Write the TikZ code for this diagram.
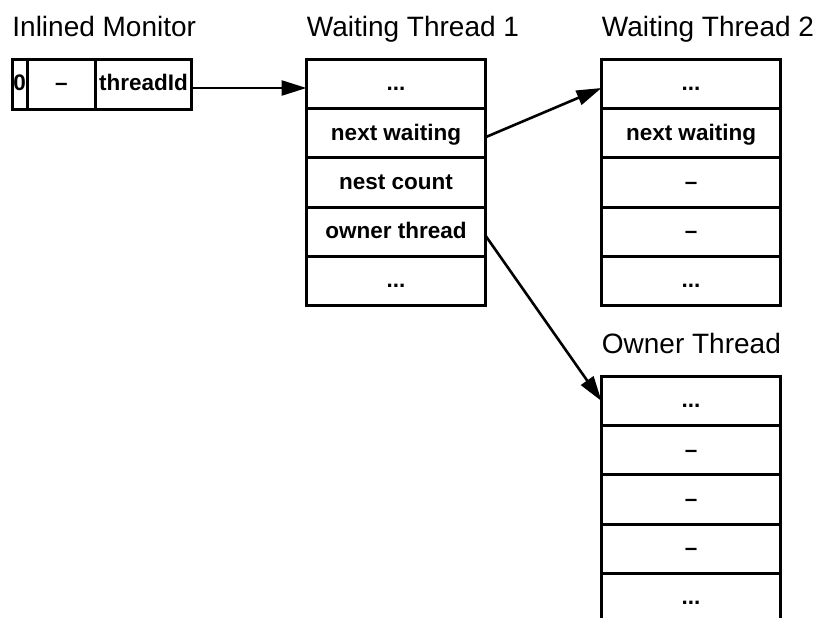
\documentclass[tikz,border=0pt]{standalone}
\usepackage{fontspec}
\setmainfont{Liberation Sans}
\usetikzlibrary{positioning, arrows.meta}
\tikzset{
  cell/.style={rectangle, draw, line width=1.5pt, minimum width=89.5pt, minimum height=24.6pt, inner sep=0, outer sep=0, text height=8.8pt, text depth=2pt, font=\fontsize{11.25}{13.5}\selectfont\bfseries},
  title/.style={anchor=base west, inner sep=0, font=\fontsize{14}{17}\selectfont},
  link/.style={-{Triangle[length=12.5pt, width=7.5pt]}, line width=1.3pt},
}
\begin{document}
\begin{tikzpicture}[x=0.5pt, y=-0.5pt]
\useasboundingbox (0,0) rectangle (824,617);
%inlined monitor
\node[cell, anchor=north west, minimum width=7.75pt, minimum height=25pt] (mon_zero) at (12,59) {0};
\node[cell, right=0pt of mon_zero, minimum width=34pt, minimum height=25pt] (mon_dash) {–};
\node[cell, right=0pt of mon_dash, minimum width=48pt, minimum height=25pt] (mon_id) {threadId};
\node[title] at ([yshift=11.5pt]mon_zero.north west) {Inlined Monitor};
%waiting thread 1
\node[cell, right=57.5pt of mon_id] (wt1_a) {...};
\node[cell, below=0pt of wt1_a] (wt1_b) {next waiting};
\node[cell, below=0pt of wt1_b] (wt1_c) {nest count};
\node[cell, below=0pt of wt1_c] (wt1_d) {owner thread};
\node[cell, below=0pt of wt1_d] (wt1_e) {...};
\node[title] at ([yshift=11.5pt]wt1_a.north west) {Waiting Thread 1};
%waiting thread 2
\node[cell, right=58pt of wt1_a] (wt2_a) {...};
\node[cell, below=0pt of wt2_a] (wt2_b) {next waiting};
\node[cell, below=0pt of wt2_b] (wt2_c) {–};
\node[cell, below=0pt of wt2_c] (wt2_d) {–};
\node[cell, below=0pt of wt2_d] (wt2_e) {...};
\node[title] at ([yshift=11.5pt]wt2_a.north west) {Waiting Thread 2};
%owner thread
\node[cell, below=35.5pt of wt2_e] (own_a) {...};
\node[cell, below=0pt of own_a] (own_b) {–};
\node[cell, below=0pt of own_b] (own_c) {–};
\node[cell, below=0pt of own_c] (own_d) {–};
\node[cell, below=0pt of own_d] (own_e) {...};
\node[title] at ([yshift=11.5pt]own_a.north west) {Owner Thread};
% links between the records
\draw[link] ([yshift=-2pt]mon_id.east) -- ([yshift=-2pt]wt1_a.west);
\draw[link] ([yshift=-2pt]wt1_b.east) -- ([yshift=-2pt]wt2_a.west);
\draw[link] ([yshift=-2pt]wt1_d.east) -- (own_a.west);
\end{tikzpicture}
\end{document}
